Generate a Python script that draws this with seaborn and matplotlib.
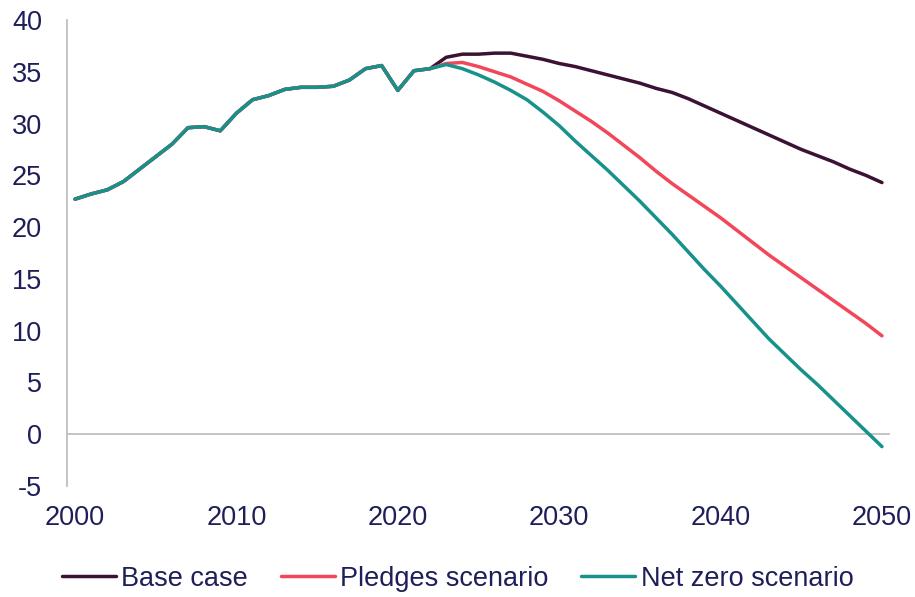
import numpy as np
import pandas as pd
import matplotlib
matplotlib.use("Agg")
import matplotlib.pyplot as plt
import seaborn as sns

# Historical emissions shared by all scenarios, 2000-2022
hist_years = list(range(2000, 2023))
hist_values = [22.7, 23.2, 23.6, 24.4, 25.6, 26.8, 28.0, 29.6, 29.7, 29.3,
               31.0, 32.3, 32.7, 33.3, 33.5, 33.5, 33.6, 34.2, 35.3, 35.6,
               33.2, 35.1, 35.3]

# Projections 2023-2050
proj_years = list(range(2023, 2051))
base_case = [36.4, 36.7, 36.7, 36.8, 36.8, 36.5, 36.2, 35.8, 35.5, 35.1,
             34.7, 34.3, 33.9, 33.4, 33.0, 32.4, 31.7, 31.0, 30.3, 29.6,
             28.9, 28.2, 27.5, 26.9, 26.3, 25.6, 25.0, 24.3]
pledges = [35.8, 35.9, 35.5, 35.0, 34.5, 33.8, 33.1, 32.2, 31.2, 30.2,
           29.1, 27.9, 26.7, 25.4, 24.2, 23.1, 22.0, 20.9, 19.7, 18.5,
           17.3, 16.2, 15.1, 14.0, 12.9, 11.8, 10.7, 9.5]
net_zero = [35.7, 35.3, 34.7, 34.0, 33.2, 32.3, 31.1, 29.8, 28.3, 26.9,
            25.5, 24.0, 22.5, 20.9, 19.3, 17.6, 15.9, 14.3, 12.6, 10.9,
            9.2, 7.7, 6.2, 4.8, 3.3, 1.8, 0.3, -1.2]

scenarios = ["Base case", "Pledges scenario", "Net zero scenario"]
colors = ["#3B1233", "#F2465A", "#17928A"]
x_ticks = [2000, 2010, 2020, 2030, 2040, 2050]
y_ticks = [-5, 0, 5, 10, 15, 20, 25, 30, 35, 40]

frames = []
for name, proj in zip(scenarios, [base_case, pledges, net_zero]):
    frames.append(pd.DataFrame({
        "year": hist_years + proj_years,
        "value": hist_values + proj,
        "scenario": name,
    }))
df = pd.concat(frames, ignore_index=True)

sns.set_theme(style="white")
plt.rcParams["font.family"] = ["Liberation Sans", "DejaVu Sans"]
plt.rcParams["axes.unicode_minus"] = False
text_color = "#1E1E5A"
grey = "#BFBFBF"
fsize = 19.5

fig = plt.figure(figsize=(9.15, 5.97), dpi=100)
ax = fig.add_axes([0.0732, 0.186, 0.8995, 0.7805])

ax.axhline(0, color=grey, lw=1.3, zorder=1)
sns.lineplot(data=df, x="year", y="value", hue="scenario",
             hue_order=scenarios, palette=colors, linewidth=2.5,
             ax=ax, legend=True, zorder=3)

ax.set_xlim(1999.5, 2050.5)
ax.set_ylim(-5, 40)
ax.set_xticks(x_ticks)
ax.set_yticks(y_ticks)
ax.set_xlabel("")
ax.set_ylabel("")
ax.tick_params(axis="both", length=0, labelsize=fsize, colors=text_color)
ax.tick_params(axis="y", pad=18)
ax.tick_params(axis="x", pad=14)

for side in ["top", "right", "bottom"]:
    ax.spines[side].set_visible(False)
ax.spines["left"].set_color(grey)
ax.spines["left"].set_linewidth(1.3)

handles, labels = ax.get_legend_handles_labels()
ax.get_legend().remove()
leg = fig.legend(handles, labels, loc="lower center", ncol=3,
                 bbox_to_anchor=(0.5, -0.032), frameon=False, fontsize=fsize,
                 handlelength=2.0, handletextpad=0.2, columnspacing=1.2)
for t in leg.get_texts():
    t.set_color(text_color)

fig.savefig("out.png", dpi=100)
